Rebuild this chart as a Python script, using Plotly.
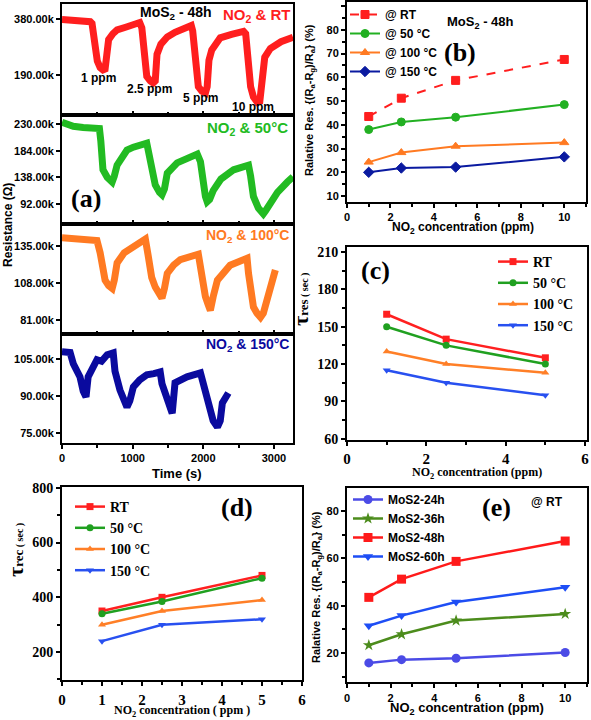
import plotly.graph_objects as go

W, H = 591, 720
ARIAL = "Liberation Sans, Arial, sans-serif"
SERIF = "Liberation Serif, Times New Roman, serif"

# ---------------- Panel (a): resistance transients (time s, resistance Ohm) ----------------
t_rt = [0, 150, 300, 400, 425, 460, 500, 540, 580, 610, 630, 660, 720, 780, 900, 1000, 1100,
        1130, 1160, 1200, 1250, 1290, 1320, 1345, 1400, 1490, 1600, 1770, 1830,
        1850, 1890, 1930, 1980, 2030, 2055, 2080, 2120, 2240, 2400, 2570,
        2600, 2630, 2670, 2710, 2765, 2800, 2830, 2870, 2950, 3100, 3270]
r_rt = [378, 376, 374, 371, 365, 300, 237, 215, 207, 210, 260, 310, 330, 343, 352, 360, 368,
        350, 260, 185, 170, 163, 170, 260, 295, 319, 335, 350, 358,
        340, 230, 150, 135, 129, 150, 240, 275, 316, 328, 338,
        330, 250, 150, 115, 97, 100, 180, 250, 280, 303, 318]

t_50 = [0, 80, 160, 300, 450, 530, 550, 580, 640, 710, 740, 780, 920, 1010, 1200,
        1220, 1260, 1320, 1380, 1415, 1450, 1490, 1630, 1915,
        1960, 1990, 2030, 2055, 2090, 2140, 2250, 2430, 2640,
        2670, 2710, 2780, 2850, 2880, 2950, 3050, 3190, 3270]
r_50 = [233, 229, 226, 224, 223, 222, 200, 151, 138, 130, 140, 159, 185, 190, 197,
        185, 150, 125, 112, 108, 118, 145, 163, 178,
        165, 130, 105, 96, 100, 115, 135, 151, 159,
        140, 105, 85, 75, 80, 95, 112, 130, 139]

t_100 = [0, 200, 400, 495, 540, 570, 610, 660, 710, 740, 780, 880, 1010, 1180,
         1220, 1270, 1320, 1380, 1415, 1450, 1490, 1580, 1675, 1930,
         1960, 2000, 2030, 2070, 2100, 2140, 2200, 2380, 2620,
         2640, 2680, 2710, 2760, 2810, 2850, 2900, 3020]
r_100 = [141, 140, 139, 139, 130, 118, 110, 106, 104, 110, 122.6, 130, 134, 140,
         128, 112, 105, 100, 97, 104, 115, 121, 125, 129,
         118, 104, 98, 92, 88, 98, 110, 121, 126,
         115, 100, 90.5, 86, 83, 86, 95.6, 117.5]

t_150 = [0, 115, 160, 255, 300, 340, 370, 430, 495, 560, 640, 725,
         750, 820, 870, 920, 960, 1010, 1100, 1200, 1300, 1390,
         1415, 1490, 1530, 1560, 1600, 1680, 1770, 1960,
         2000, 2070, 2140, 2200, 2240, 2270, 2355]
r_150 = [107.8, 107.5, 103, 97.7, 92, 89.6, 97.7, 101, 104.6, 104, 106.6, 107.4,
         100, 92.4, 88, 85.5, 88, 93.6, 96.5, 98.5, 99, 99.7,
         95, 88.4, 85, 83, 95.3, 96.5, 97.7, 99.3,
         95, 85.5, 80, 77.4, 80, 87.2, 91.2]

a_tickvals = [[190e3, 380e3], [92e3, 138e3, 184e3, 230e3], [81e3, 108e3, 135e3], [75e3, 90e3, 105e3]]
a_ticktext = [["190.00k", "380.00k"], ["92.00k", "138.00k", "184.00k", "230.00k"],
              ["81.00k", "108.00k", "135.00k"], ["75.00k", "90.00k", "105.00k"]]
a_ranges = [[54e3, 431e3], [57.5e3, 245.5e3], [70.8e3, 151e3], [71e3, 115e3]]
a_colors = ["#FF1E1E", "#22BB22", "#FF7A22", "#0A0A9E"]
a_time = [t_rt, t_50, t_100, t_150]
a_res = [r_rt, r_50, r_100, r_150]

# ---------------- Panel (b): relative response vs concentration (MoS2-48h) ----------------
conc = [1, 2.5, 5, 10]
b_rt = [43.5, 51.2, 58.7, 67.5]
b_50 = [38.0, 41.2, 43.2, 48.5]
b_100 = [24.3, 28.3, 31.0, 32.5]
b_150 = [20.0, 21.8, 22.2, 26.5]

# ---------------- Panel (c): response time; Panel (d): recovery time ----------------
conc_cd = [1, 2.5, 5]
c_rt = [160, 140, 125]
c_50 = [150, 135, 120]
c_100 = [130, 120, 113]
c_150 = [115, 105, 95]

d_rt = [350, 400, 480]
d_50 = [340, 385, 470]
d_100 = [300, 350, 390]
d_150 = [240, 300, 320]

# ---------------- Panel (e): relative response at RT for different samples ----------------
e_24 = [15.8, 17.2, 17.8, 20.2]
e_36 = [23.3, 27.9, 33.7, 36.5]
e_48 = [43.5, 51.2, 58.7, 67.3]
e_60 = [31.5, 35.8, 41.5, 47.8]


def fx(px):
    return px / W


def fy(py):
    return 1 - py / H


def axis(dom, rng, **kw):
    d = dict(domain=dom, range=rng, showline=True, linecolor="black", linewidth=2, mirror=True,
             showgrid=False, zeroline=False, ticks="outside", ticklen=5, tickwidth=2,
             tickcolor="black", automargin=False)
    d.update(kw)
    return d


fig = go.Figure()
layout = dict(width=W, height=H, margin=dict(l=0, r=0, t=0, b=0, autoexpand=False),
              paper_bgcolor="white", plot_bgcolor="white", showlegend=True)

# panel (a) sub-plots
a_bounds = [(4, 115), (115, 224), (224, 334), (334, 443)]
tickfont_a = dict(family=ARIAL, size=11, color="black", weight="bold")
for i in range(4):
    n = i + 1
    xs = "" if n == 1 else str(n)
    fig.add_trace(go.Scatter(x=a_time[i], y=[v * 1000 for v in a_res[i]], mode="lines",
                             line=dict(color=a_colors[i], width=7), showlegend=False,
                             xaxis="x" + xs, yaxis="y" + xs, hoverinfo="skip"))
    top, bot = a_bounds[i]
    last = (n == 4)
    layout["xaxis" + xs] = axis([fx(62), fx(293)], [0, 3270], anchor="y" + xs,
                                tickvals=[0, 1000, 2000, 3000], ticks="inside" if not last else "outside",
                                ticklen=4, showticklabels=last, tickfont=tickfont_a,
                                minor=dict(ticks="inside" if not last else "outside", ticklen=3,
                                           tickwidth=1.5, tickvals=[500, 1500, 2500]))
    layout["yaxis" + xs] = axis([fy(bot), fy(top)], a_ranges[i], anchor="x" + xs,
                                tickmode="array", tickvals=a_tickvals[i], ticktext=a_ticktext[i],
                                tickfont=tickfont_a, ticklen=4)

# panel (b)
b_series = [("@ RT", b_rt, "#FF1E1E", "square", "dash"),
            ("@ 50 °C", b_50, "#22B022", "circle", "solid"),
            ("@ 100 °C", b_100, "#FF7A22", "triangle-up", "solid"),
            ("@ 150 °C", b_150, "#0A1AA0", "diamond", "solid")]
for name, ys, col, sym, dash in b_series:
    fig.add_trace(go.Scatter(x=conc, y=ys, name=name, mode="lines+markers",
                             line=dict(color=col, width=2, dash=dash),
                             marker=dict(symbol=sym, size=8, color=col,
                                         line=dict(color=col, width=1)),
                             xaxis="x5", yaxis="y5", legend="legend"))
tf_b = dict(family=ARIAL, size=11, color="black", weight="bold")
layout["xaxis5"] = axis([fx(347), fx(586)], [0, 11], anchor="y5", tickvals=[0, 2, 4, 6, 8, 10],
                        tickfont=tf_b, ticklen=4,
                        minor=dict(ticks="outside", ticklen=3, tickwidth=1.5, dtick=1, tick0=0))
layout["yaxis5"] = axis([fy(202), fy(2)], [7.5, 91.7], anchor="x5",
                        tickvals=[10, 20, 30, 40, 50, 60, 70, 80, 90], tickfont=tf_b, ticklen=4,
                        minor=dict(ticks="outside", ticklen=3, tickwidth=1.5, dtick=5, tick0=0))

# panel (c)
cd_series = [("RT", "#FF2020", "square"), ("50 °C", "#20A020", "circle"),
             ("100 °C", "#FF7F27", "triangle-up"), ("150 °C", "#2850F0", "triangle-down")]
for (name, col, sym), ys in zip(cd_series, [c_rt, c_50, c_100, c_150]):
    fig.add_trace(go.Scatter(x=conc_cd, y=ys, name=name, mode="lines+markers",
                             line=dict(color=col, width=2.5),
                             marker=dict(symbol=sym, size=7, color=col),
                             xaxis="x6", yaxis="y6", legend="legend2"))
tf_cy = dict(family=SERIF, size=14, color="black", weight="bold")
tf_cx = dict(family=SERIF, size=15, color="black", weight="bold")
layout["xaxis6"] = axis([fx(347), fx(587)], [0, 6.05], anchor="y6", tickvals=[0, 2, 4, 6],
                        tickfont=tf_cx, ticklen=4,
                        minor=dict(ticks="outside", ticklen=3, tickwidth=1.5, dtick=1, tick0=0))
layout["yaxis6"] = axis([fy(440), fy(247)], [59, 214], anchor="x6",
                        tickvals=[60, 90, 120, 150, 180, 210], tickfont=tf_cy, ticklen=4,
                        minor=dict(ticks="outside", ticklen=3, tickwidth=1.5, dtick=15, tick0=0))

# panel (d)
for (name, col, sym), ys in zip(cd_series, [d_rt, d_50, d_100, d_150]):
    fig.add_trace(go.Scatter(x=conc_cd, y=ys, name=name, mode="lines+markers",
                             line=dict(color=col, width=2.5),
                             marker=dict(symbol=sym, size=7, color=col),
                             xaxis="x7", yaxis="y7", legend="legend3"))
layout["xaxis7"] = axis([fx(62), fx(302)], [0, 6], anchor="y7", tickvals=[0, 1, 2, 3, 4, 5, 6],
                        tickfont=tf_cx, ticklen=4, ticklabelstandoff=1,
                        minor=dict(ticks="outside", ticklen=3, tickwidth=1.5, dtick=0.5, tick0=0))
layout["yaxis7"] = axis([fy(680), fy(487)], [98, 803], anchor="x7",
                        tickvals=[200, 400, 600, 800], tickfont=tf_cy, ticklen=4,
                        minor=dict(ticks="outside", ticklen=3, tickwidth=1.5, dtick=100, tick0=0))

# panel (e)
e_series = [("MoS2-24h", e_24, "#4B4BE6", "circle"), ("MoS2-36h", e_36, "#4C8C1C", "star"),
            ("MoS2-48h", e_48, "#FF1A1A", "square"), ("MoS2-60h", e_60, "#1E4EF5", "triangle-down")]
for name, ys, col, sym in e_series:
    fig.add_trace(go.Scatter(x=conc, y=ys, name=name, mode="lines+markers",
                             line=dict(color=col, width=2.5),
                             marker=dict(symbol=sym, size=9, color=col),
                             xaxis="x8", yaxis="y8", legend="legend4"))
layout["xaxis8"] = axis([fx(347), fx(587)], [0, 11], anchor="y8", tickvals=[0, 2, 4, 6, 8, 10],
                        tickfont=tf_b, ticklen=4, ticklabelstandoff=1,
                        minor=dict(ticks="outside", ticklen=3, tickwidth=1.5, dtick=1, tick0=0))
layout["yaxis8"] = axis([fy(682), fy(488)], [7.75, 89.7], anchor="x8",
                        tickvals=[20, 40, 60, 80], tickfont=tf_b, ticklen=4,
                        minor=dict(ticks="outside", ticklen=3, tickwidth=1.5, dtick=10, tick0=0))

# legends
leg_common = dict(xanchor="left", yanchor="top", bgcolor="rgba(0,0,0,0)", borderwidth=0,
                  itemwidth=30, tracegroupgap=0)
layout["legend"] = dict(x=fx(345), y=fy(0), font=dict(family=ARIAL, size=12, color="black", weight="bold"),
                        **leg_common)
layout["legend2"] = dict(x=fx(493), y=fy(246), font=dict(family=SERIF, size=14, color="black", weight="bold"),
                         **leg_common)
layout["legend3"] = dict(x=fx(70), y=fy(491), font=dict(family=SERIF, size=14, color="black", weight="bold"),
                         **leg_common)
layout["legend4"] = dict(x=fx(348), y=fy(485), font=dict(family=ARIAL, size=12, color="black", weight="bold"),
                         **leg_common)

annotations = []


def ann(text, px, py, size, color="black", family=ARIAL, angle=0):
    annotations.append(dict(text=text, x=fx(px), y=fy(py), xref="paper", yref="paper",
                            xanchor="center", yanchor="middle", showarrow=False, textangle=angle,
                            font=dict(family=family, size=size, color=color, weight="bold")))


# panel (a) texts
ann("MoS<sub>2</sub> - 48h", 176, 13, 14)
ann("NO<sub>2</sub> & RT", 257, 15, 15, a_colors[0])
ann("1 ppm", 98, 78, 12)
ann("2.5 ppm", 149, 89, 12)
ann("5 ppm", 200, 98, 12)
ann("10 ppm", 253, 107, 12)
ann("NO<sub>2</sub> & 50°C", 247, 128, 15, a_colors[1])
ann("(a)", 86, 198, 26, family=SERIF)
ann("NO<sub>2</sub> & 100°C", 247, 236, 14, a_colors[2])
ann("NO<sub>2</sub> & 150°C", 247, 345, 14, a_colors[3])
ann("Resistance (Ω)", 8, 225, 12, angle=-90)
ann("Time (s)", 177, 473, 13)

# panel (b)
ann("MoS<sub>2</sub> - 48h", 480, 22, 13)
ann("(b)", 460, 53, 26, family=SERIF)
ann("Ralative Res. {(R<sub>a</sub>-R<sub>g</sub>)/R<sub>a</sub>} (%)", 310, 100, 11, angle=-90)
ann("NO<sub>2</sub> concentration (ppm)", 463, 228, 12)

# panel (c)
ann("(c)", 375, 270, 26, family=SERIF)
ann("<span style='font-size:22px'>τ</span><span style='font-size:13px'>res</span>"
    "<span style='font-size:10px'> ( sec )</span>", 300, 300, 13, family=SERIF, angle=-90)
ann("NO<sub>2</sub> concentration (ppm)", 477, 473, 12, family=SERIF)

# panel (d)
ann("(d)", 237, 507, 26, family=SERIF)
ann("<span style='font-size:22px'>τ</span><span style='font-size:13px'>rec</span>"
    "<span style='font-size:10px'> ( sec )</span>", 15, 550, 13, family=SERIF, angle=-90)
ann("NO<sub>2</sub> concentration ( ppm )", 182, 711, 12, family=SERIF)

# panel (e)
ann("(e)", 496, 507, 26, family=SERIF)
ann("@ RT", 547, 502, 12)
ann("Ralative Res. {(R<sub>a</sub>-R<sub>g</sub>)/R<sub>a</sub>} (%)", 317, 587, 11, angle=-90)
ann("NO<sub>2</sub> concentration (ppm)", 467, 708, 13)

layout["annotations"] = annotations
fig.update_layout(**layout)
# remove the browser's default 8px body margin so the 591x720 figure fills the window exactly
fig.write_html("out.html", config={"displayModeBar": False},
               post_script="document.body.style.margin='0px';document.body.style.overflow='hidden';")
